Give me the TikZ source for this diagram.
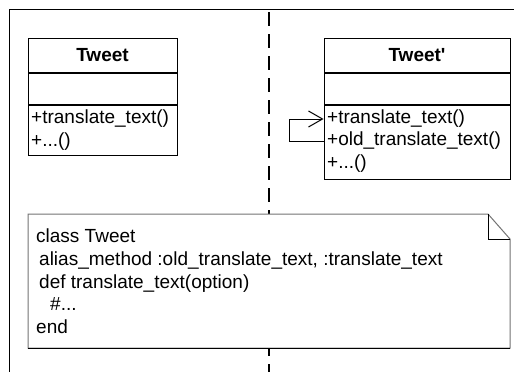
\documentclass[tikz,border=0pt]{standalone}
\usepackage{fontspec}
\setmainfont{Liberation Sans}
\usetikzlibrary{arrows.meta}

\tikzset{
  classbox/.style={draw, line width=1pt, inner sep=0pt},
  methtext/.style={anchor=west, inner sep=0pt},
}

\begin{document}
\begin{tikzpicture}[x=1pt, y=-1pt, font=\fontsize{19}{22.6}\selectfont]
  \useasboundingbox (0,0) rectangle (514,372);
  % frame and lane divider
  \draw[line width=1.6pt](9.5, 372)--(9.5, 9.5)--(514, 9.5);
  \draw[line width=1.4pt, dash pattern=on 14pt off 8pt](269, 12)--(269, 372);
  % original class
  \node[classbox, minimum width=149pt, minimum height=34pt](tweet)at(102.5, 55){\bfseries Tweet};
  \node[classbox, minimum width=149pt, minimum height=31pt, anchor=north](tweetattr)at(tweet.south){};
  \node[classbox, minimum width=149pt, minimum height=50pt, anchor=north](tweetops)at(tweetattr.south){};
  \node[methtext](tweetm1)at(31, 119){+translate\_text()};
  \node[methtext](tweetm2)at(31, 142){+...()};
  % aliased class
  \node[classbox, minimum width=186pt, minimum height=34pt](tweetb)at(417, 55){\bfseries Tweet\textquotesingle};
  \node[classbox, minimum width=186pt, minimum height=31pt, anchor=north](tweetbattr)at(tweetb.south){};
  \node[classbox, minimum width=186pt, minimum height=74pt, anchor=north](tweetbops)at(tweetbattr.south){};
  \node[methtext](tweetbm1)at(327, 119){+translate\_text()};
  \node[methtext](tweetbm2)at(327, 141){+old\_translate\_text()};
  \node[methtext](tweetbm3)at(327, 164){+...()};
  \draw[-{Straight Barb[length=14pt, width=16pt]}, line width=1pt](tweetbops.west |- tweetbm2)--++(-34, 0)|-(tweetbops.west |- tweetbm1);
  % code note
  \draw[line width=1pt, draw=black!55, fill=white](28, 214)--(488, 214)--(510, 239)--(510, 348)--(28, 348)--cycle;
  \draw[line width=1pt](488, 214)--(488, 239)--(510, 239);
  \draw[line width=1pt](28, 348)--(510, 348);
  \node[anchor=north west, align=left, inner sep=0pt](code)at(36, 229){class Tweet\\
    \hspace*{3pt}alias\_method :old\_translate\_text, :translate\_text\\
    \hspace*{3pt}def translate\_text(option)\\
    \hspace*{14pt}\#...\\
    end};
\end{tikzpicture}
\end{document}
